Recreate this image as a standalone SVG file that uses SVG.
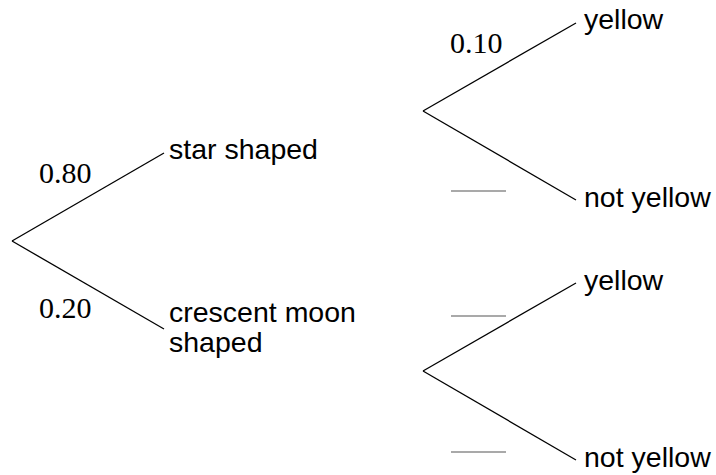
<svg xmlns="http://www.w3.org/2000/svg" width="716" height="475" viewBox="0 0 716 475">
<style>
.br{stroke:#000;stroke-width:1.3;fill:none}
.blank{stroke:#555;stroke-width:1.2}
.lab{font-family:"Liberation Sans",Arial,sans-serif;font-size:28.5px;fill:#000}
.p{font-family:"Liberation Serif","Times New Roman",serif;font-size:30px;fill:#000}
</style>
<rect width="716" height="475" fill="#fff"/>
<g id="connectors">
<line class="br" x1="12" y1="241" x2="164" y2="153"/>
<line class="br" x1="12" y1="241" x2="164" y2="329"/>
<line class="br" x1="423" y1="111" x2="576" y2="23"/>
<line class="br" x1="423" y1="111" x2="576" y2="200"/>
<line class="br" x1="423" y1="371" x2="576" y2="283"/>
<line class="br" x1="423" y1="371" x2="576" y2="460"/>
</g>
<g id="prob-080"><text class="p" x="39" y="183">0.80</text></g>
<g id="prob-020"><text class="p" x="39" y="318">0.20</text></g>
<g id="prob-010"><text class="p" x="450" y="53">0.10</text></g>
<g id="blank-1"><line class="blank" x1="451" y1="191" x2="506" y2="191"/></g>
<g id="blank-2"><line class="blank" x1="451" y1="316" x2="506" y2="316"/></g>
<g id="blank-3"><line class="blank" x1="451" y1="452" x2="506" y2="452"/></g>
<g id="star"><text class="lab" x="169" y="159">star shaped</text></g>
<g id="crescent"><text class="lab" x="169" y="322">crescent moon<tspan x="169" y="352">shaped</tspan></text></g>
<g id="yellow-1"><text class="lab" x="584" y="29">yellow</text></g>
<g id="notyellow-1"><text class="lab" x="584" y="207">not yellow</text></g>
<g id="yellow-2"><text class="lab" x="584" y="290">yellow</text></g>
<g id="notyellow-2"><text class="lab" x="584" y="467">not yellow</text></g>
</svg>
